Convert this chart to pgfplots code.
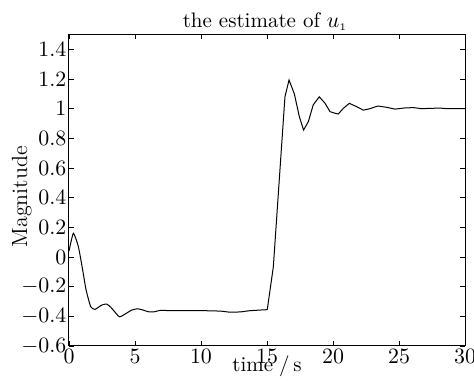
\documentclass[border=0pt]{standalone}
\usepackage{pgfplots}
\pgfplotsset{compat=1.18}
\begin{document}
\begin{tikzpicture}
\useasboundingbox (-34.5pt,-18.5pt) rectangle (202.5pt,173pt);
\begin{axis}[
  at={(0,0)}, anchor=south west,
  scale only axis,
  width=198pt, height=155.75pt,
  xmin=0, xmax=30, ymin=-0.6, ymax=1.5,
  xtick={0,5,...,30},
  ytick={-0.6,-0.4,...,1.41},
  yticklabel style={/pgf/number format/fixed, font=\fontsize{10.5}{12}\selectfont, inner sep=1.15pt},
  xticklabel style={font=\fontsize{10.5}{12}\selectfont, inner sep=1.5pt},
  tick align=inside,
  major tick length=2.5pt,
  axis line style={line width=0.5pt},
  tick style={line width=0.4pt, black},
  every axis title shift=0pt,
  title={the estimate of $u_{\scriptscriptstyle 1}$},
  title style={at={(axis description cs:0.495,1.0305)}, anchor=base, yshift=-1.2pt, inner sep=0pt, font=\fontsize{10.5}{12}\selectfont},
  xlabel={time\kern3pt/\kern1.8pt s},
  xlabel style={at={(axis description cs:0.5,-0.0793)}, anchor=base, yshift=-0.6pt, inner sep=0pt, font=\fontsize{10.5}{12}\selectfont},
  ylabel={Magnitude},
  ylabel style={at={(axis description cs:-0.106,0.479)}, anchor=base, inner sep=0pt, font=\fontsize{11}{13}\selectfont},
]
\addplot[black, line width=0.5pt, smooth, tension=0.3] coordinates {
(0,0.04) (0.33,0.16) (0.71,0.07) (1.04,-0.09) (1.29,-0.22) (1.64,-0.335)
(1.97,-0.353) (2.48,-0.324) (2.86,-0.317) (3.2,-0.342) (3.81,-0.403)
(4.24,-0.385) (4.75,-0.358) (5.18,-0.349) (5.63,-0.358) (6.0,-0.369)
(6.5,-0.369) (6.9,-0.36) (8,-0.362) (10.2,-0.362) (11.5,-0.365)
(12.2,-0.372) (13,-0.37) (13.7,-0.362) (15.02,-0.355)
};
\addplot[black, line width=0.5pt] coordinates {
(15.02,-0.355) (15.48,-0.066) (15.98,0.586) (16.36,1.08) (16.67,1.193)
(17.07,1.10) (17.45,0.946) (17.77,0.856) (18.13,0.912) (18.5,1.025)
(18.96,1.08) (19.4,1.036) (19.77,0.98) (20.15,0.969) (20.4,0.964)
(20.78,1.002) (21.24,1.036) (21.8,1.013) (22.3,0.99) (22.8,1.0)
(23.4,1.018) (24.07,1.009) (24.7,0.997) (25.45,1.005) (26.1,1.007)
(26.7,1.0) (28.1,1.004) (28.6,1.0) (30,1.0)
};
\end{axis}
\end{tikzpicture}
\end{document}
